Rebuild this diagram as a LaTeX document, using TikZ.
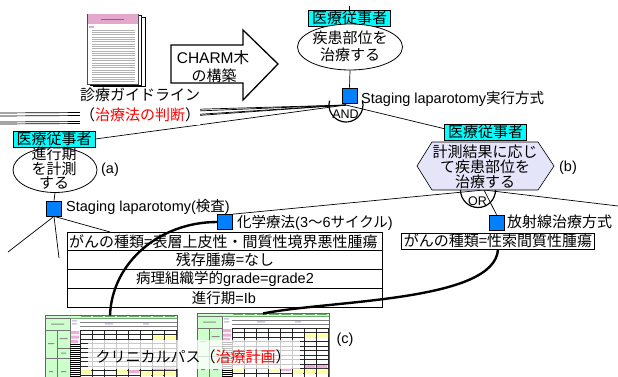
\documentclass[tikz,border=0pt]{standalone}
\usepackage{fontspec}
\setmainfont{Liberation Sans}
\newfontfamily\jp{Noto Sans CJK JP}
\usetikzlibrary{shapes.geometric,calc}
\pgfdeclarelayer{backdrop}
\pgfdeclarelayer{wires}
\pgfsetlayers{backdrop,wires,main}

\definecolor{nodeblue}{RGB}{0,128,255}
\definecolor{agentcyan}{RGB}{0,255,255}
\definecolor{hexfill}{RGB}{229,229,250}
\definecolor{sheetgreen}{RGB}{204,255,204}
\definecolor{sheetdark}{RGB}{110,170,110}
\definecolor{sheetpink}{RGB}{235,175,215}
\definecolor{sheetyellow}{RGB}{255,255,170}
\definecolor{sheetlav}{RGB}{200,200,235}
\definecolor{docpink}{RGB}{228,168,205}

\newcommand\latsize{\fontsize{14.5}{16}\selectfont}
\newcommand\jpsize{\jp\fontsize{15}{16}\selectfont}

% one clinical pathway sheet, top-left corner at (#1,#2)
\newcommand\clinsheet[2]{%
\begin{scope}[shift={(#1,#2)}]
  \fill[white] (0,0) rectangle (132,66);
  \fill[sheetgreen] (0,0) rectangle (132,3.5);
  \foreach \x in {35,47,...,120}{\fill[sheetdark] (\x+1,0.6) rectangle (\x+11,2);}
  \draw[sheetdark, line width=0.6pt] (0,0) -- (132,0) (0,3.5) -- (132,3.5);
  \fill[sheetgreen] (0,3.5) rectangle (25,66);
  \draw[black!55, line width=0.4pt] (0,3.5) rectangle (25,15) (0,15) rectangle (12,43)
     (12,15) rectangle (25,33) (12,33) rectangle (25,43) (0,43) rectangle (12,66) (12,43) rectangle (25,66);
  \fill[black!45] (6,8.6) rectangle (19,9.6) (3,28) rectangle (9,29) (14.5,23) rectangle (22.5,24)
     (16,37.5) rectangle (21,38.5) (4,56) rectangle (8,57) (16,56) rectangle (21,57);
  % task column
  \fill[sheetpink] (26,16) rectangle (34,19) (26,20.5) rectangle (34,23.5) (26,25) rectangle (33,28);
  \fill[sheetlav] (27,5) rectangle (32,6.5) (27,8) rectangle (32,9.5) (60,8) rectangle (68,9.5) (98,8) rectangle (104,9.5);
  \foreach \y in {29.5,31.5,...,65.5}{\draw[black, line width=0.5pt] (25,\y) -- (35,\y);}
  % day grid
  \draw[black!50, line width=0.4pt] (35,7) -- (132,7) (35,11) -- (132,11);
  \foreach \x in {35,47,...,131}{\draw[black!85, line width=0.5pt] (\x,15) -- (\x,66);}
  \foreach \y in {15,19.5,...,66}{\draw[black!85, line width=0.5pt] (35,\y) -- (132,\y);}
  \fill[sheetyellow] (108,21) rectangle (118.5,25) (120,21) rectangle (131,25)
     (36,55) rectangle (46,59) (72,55) rectangle (82,59) (96,57) rectangle (106,61) (108,57) rectangle (118,61) (120,57) rectangle (131,61);
  \fill[sheetpink] (84,55) rectangle (94,58) (108,52) rectangle (118,55) (120,52) rectangle (130,55);
  \draw[black!60, line width=0.5pt] (0,0) rectangle (132,66);
\end{scope}}

\tikzset{
  lbl/.style={inner sep=0pt, font=\latsize},
  jlbl/.style={inner sep=0pt, font=\jpsize},
  agent/.style={draw, line width=0.6pt, fill=agentcyan, inner sep=0pt, minimum width=82pt, minimum height=16pt, font=\jpsize},
  goalshape/.style={draw, line width=0.8pt, fill=white, ellipse, inner sep=0pt},
  method/.style={draw, line width=0.7pt, fill=nodeblue, minimum size=15pt, inner sep=0pt},
  cellrow/.style={draw, line width=0.7pt, fill=white, minimum width=315pt, minimum height=18.75pt, inner sep=0pt},
  link/.style={line width=0.7pt},
  flow/.style={line width=2.4pt},
  gate/.style={line width=1.2pt},
  gatelbl/.style={inner sep=0pt, font=\fontsize{12.5}{13}\selectfont},
}

\begin{document}
\begin{tikzpicture}[x=1pt,y=-1pt]
\useasboundingbox (0,0) rectangle (618,377);
\begin{pgfonlayer}{backdrop}
  \fill[white] (0,0) rectangle (618,377);
\end{pgfonlayer}

% ---------- guideline document stack ----------
\draw[black, line width=0.9pt, fill=white] (93,17) rectangle (145,86);
\draw[black, line width=0.9pt, fill=white] (90,15.5) rectangle (141.5,85);
\draw[black!70, line width=0.6pt, fill=white] (87,14) rectangle (138,84);
\fill[docpink] (87.5,14.5) rectangle (137.5,24);
\fill[black!55] (101,18.6) rectangle (124,19.6);
\fill[docpink] (89,26.5) rectangle (94,28);
\foreach \k in {0,...,22}{\draw[black!30, line width=0.7pt] (92,30+2.35*\k) -- (135,30+2.35*\k);}

\node[jlbl, fill=white, inner sep=1pt] (guide) at (140,95) {診療ガイドライン};
\node[jlbl, fill=white, inner ysep=2.5pt] (judge) at (140,115) {（\textcolor{red}{治療法の判断}）};

% ---------- construction arrow ----------
\draw[line width=1.3pt, fill=white] (171,45) -- (243,45) -- (243,30) -- (278,64)
   -- (243,100) -- (243,83) -- (171,83) -- cycle;
\node[lbl, font=\fontsize{15.5}{16}\selectfont] (charmA) at (213,58) {CHARM{\jp 木}};
\node[jlbl] (charmB) at (214,76) {の構築};

% ---------- top goal ----------
\node[agent] (topagent) at (349.5,18) {医療従事者};
\coordinate (topstub) at (349.5,6);
\node[goalshape, minimum width=105pt, minimum height=46pt] (topgoal) at (350,47) {};
\node[align=center, inner sep=0pt, font=\jp\fontsize{15}{17}\selectfont] (topgoaltext) at (350,46.5) {疾患部位を\\治療する};
\node[method] (sqtop) at (349.5,95.5) {};
\node[lbl, anchor=west] (sqtoplbl) at (361,99) {Staging laparotomy{\jp 実行方式}};
\coordinate (andpt) at (346,105);

% ---------- goal (a) ----------
\node[agent] (aagent) at (54,139) {医療従事者};
\node[goalshape, minimum width=84pt, minimum height=45pt] (agoal) at (55,170) {};
\node[align=center, inner sep=0pt, font=\jp\fontsize{15}{12.8}\selectfont] (agoaltext) at (54,168) {進行期\\を計測\\する};
\node[lbl] (atag) at (110,170) {(a)};
\node[method] (sqa) at (54,208.5) {};
\node[lbl, anchor=west] (sqalbl) at (66,207) {Staging laparotomy({\jp 検査})};

% ---------- goal (b) ----------
\node[agent] (bagent) at (485.5,132) {医療従事者};
\draw[line width=0.6pt, fill=hexfill] (417,166) -- (432,142) -- (538,142) -- (554,166)
   -- (538,190) -- (432,190) -- cycle;
\node[align=center, inner sep=0pt, font=\jp\fontsize{15}{15}\selectfont] (btext) at (485,167) {計測結果に応じ\\て疾患部位を\\治療する};
\node[lbl] (btag) at (568,168) {(b)};
\coordinate (orpt) at (484,190);

% ---------- treatment methods ----------
\node[method] (sqc) at (225,222) {};
\node[lbl, anchor=west] (sqclbl) at (237,223) {{\jp 化学療法}(3{\jp ～}6{\jp サイクル})};
\node[method] (sqr) at (496.5,222.5) {};
\node[jlbl, anchor=west] (sqrlbl) at (507,222) {放射線治療方式};

% ---------- condition table ----------
\node[cellrow] (row1) at (224.5,241.4) {};
\node[cellrow] (row2) at (224.5,260.1) {};
\node[cellrow] (row3) at (224.5,278.9) {};
\node[cellrow] (row4) at (224.5,297.6) {};
\node[jlbl, anchor=west] (row1txt) at (69,241.4) {がんの種類=表層上皮性・間質性境界悪性腫瘍};
\node[jlbl] (row2txt) at (225,260.1) {残存腫瘍=なし};
\node[lbl] (row3txt) at (225,278.9) {{\jp 病理組織学的}grade=grade2};
\node[lbl] (row4txt) at (224,297.6) {{\jp 進行期}=Ib};
\node[jlbl, draw, line width=0.7pt, fill=white, inner xsep=2.5pt, minimum height=16pt] (rbox) at (498,241) {がんの種類=性索間質性腫瘍};

% ---------- clinical pathway sheets ----------
\begin{scope}
  \clip (0,0) rectangle (618,377);
  \clinsheet{45}{315}
  \clinsheet{197}{313}
\end{scope}
\coordinate (sheetAtop) at (110,315.5);
\coordinate (sheetBtop) at (263,313.5);
\node[fill=white, fill opacity=0.75, minimum width=212pt, minimum height=29pt, inner sep=0pt] (cband) at (194,354.5) {};
\node[jlbl] (cpath) at (193,357) {クリニカルパス（\textcolor{red}{治療計画}）};
\node[lbl] (ctag) at (345,340) {(c)};

% ---------- gates ----------
\draw[gate] (andpt) ++(195:17) arc[start angle=195, end angle=-15, radius=17];
\node[gatelbl] (andlbl) at (345.5,114) {AND};
\draw[gate] (478,190) ++(180:17.5) arc[start angle=180, end angle=0, radius=17.5];
\node[gatelbl] (orlbl) at (477.5,201) {OR};

% ---------- connectors ----------
\coordinate (w1) at (0,113);
\coordinate (w2) at (0,116);
\coordinate (w3) at (0,122);
\coordinate (w4) at (0,124);
\coordinate (sw1) at (8,252);
\coordinate (sw2) at (59,258);
\coordinate (sw3) at (110,232);
\coordinate (e1) at (618,206);
\begin{pgfonlayer}{wires}
  \draw[link] (topagent.north) -- (topstub);
  \draw[link] (topgoal.south) -- (sqtop.north);
  \draw[link] (andpt) -- (85,112.5) -- (w1);
  \draw[link] (andpt) -- (85,115.5) -- (w2);
  \draw[link] (andpt) -- (85,121.5) -- (w3);
  \draw[link] (andpt) -- (85,123.5) -- (w4);
  \draw[link] (andpt) -- (aagent.east);
  \draw[link] (andpt) -- ($(bagent.north west)!0.3!(bagent.south west)$);
  \draw[link] (agoal.south) -- (sqa.north);
  \draw[link] (sqa.south) -- (sw1);
  \draw[link] (sqa.south) -- (sw2);
  \draw[link] (sqa.south) -- (sw3);
  \draw[link] (orpt) -- (sqc.north east);
  \draw[link] (orpt) -- (e1);
  \draw[link] (orpt) -- (sqr.north);
\end{pgfonlayer}

% ---------- links to the clinical pathways ----------
\draw[flow] (sqc.west) .. controls (160,222) and (112,262) .. (sheetAtop);
\draw[flow] (rbox.south) .. controls (495,302) and (330,300) .. (sheetBtop);
\end{tikzpicture}
\end{document}
